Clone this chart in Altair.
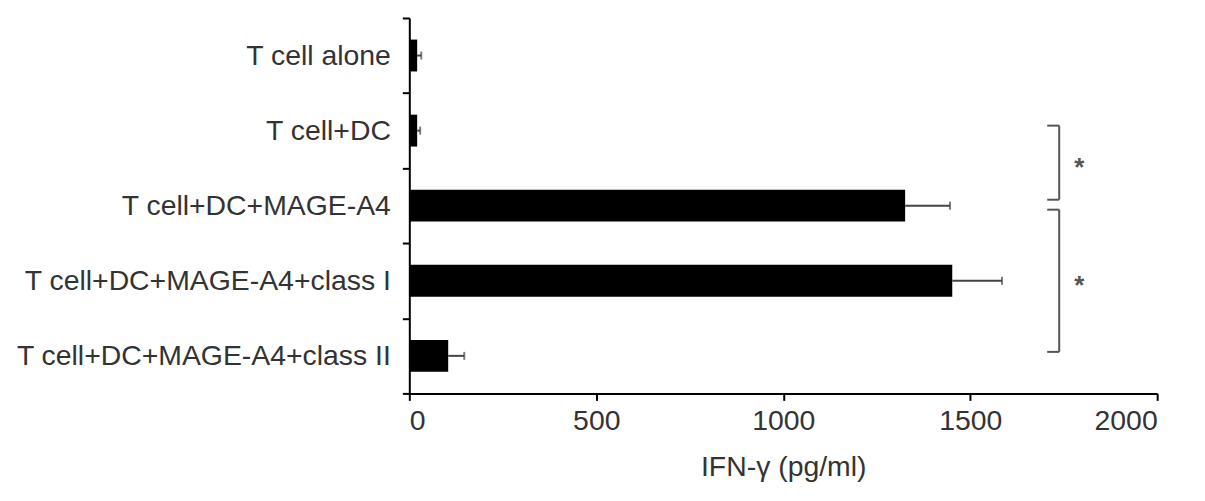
import altair as alt
import pandas as pd

categories = [
    "T cell alone",
    "T cell+DC",
    "T cell+DC+MAGE-A4",
    "T cell+DC+MAGE-A4+class I",
    "T cell+DC+MAGE-A4+class II",
]
means = [21, 21, 1326, 1452, 104]
sds = [11, 8, 120, 133, 43]
x_ticks = [0, 500, 1000, 1500, 2000]

# significance brackets: (from category, to category, x of arms' left end, x of vertical line, x of star)
brackets = [
    ("T cell+DC", "T cell+DC+MAGE-A4", 1706, 1738, 1792),
    ("T cell+DC+MAGE-A4", "T cell+DC+MAGE-A4+class II", 1706, 1738, 1792),
]
bracket_offsets = [(-5, -6, 32), (4, -4, 75)]  # pixel nudges: top, bottom, star

df = pd.DataFrame({"cat": categories, "mean": means, "sd": sds})
df["hi"] = df["mean"] + df["sd"]

FONT = "Liberation Sans"
FS = 28.5
ysc = alt.Scale(domain=categories, paddingInner=0, paddingOuter=0)
xsc = alt.Scale(domain=[0, 2000], nice=False)

base = alt.Chart(df)

bars = base.mark_bar(color="black", size=32).encode(
    y=alt.Y("cat:N", scale=ysc, sort=categories, title=None,
            axis=alt.Axis(tickBand="extent", tickSize=7, tickWidth=2, tickColor="black",
                          domainColor="black", domainWidth=2,
                          labelFont=FONT, labelFontSize=FS, labelColor="#333",
                          labelPadding=12, labelLimit=500)),
    x=alt.X("mean:Q", scale=xsc, title="IFN-γ (pg/ml)",
            axis=alt.Axis(values=x_ticks, format="d", tickSize=7, tickWidth=2, tickColor="black",
                          domainColor="black", domainWidth=2, grid=False,
                          labelFont=FONT, labelFontSize=FS, labelColor="#333",
                          labelPadding=6, titleFont=FONT, titleFontSize=FS,
                          titleFontWeight="normal", titleColor="#333", titlePadding=18)),
)

err = base.mark_rule(color="#444", strokeWidth=2).encode(
    y=alt.Y("cat:N", scale=ysc, sort=categories),
    x="mean:Q", x2="hi:Q",
)
caps = base.mark_tick(color="#444", thickness=2, size=8, orient="vertical").encode(
    y=alt.Y("cat:N", scale=ysc, sort=categories),
    x=alt.X("hi:Q", scale=xsc),
)

layers = [bars, err, caps]
for (a, b, xl, xv, xs), (ot, ob, os_) in zip(brackets, bracket_offsets):
    bd = pd.DataFrame({"a": [a], "b": [b], "xl": [xl], "xv": [xv], "xs": [xs]})
    bc = alt.Chart(bd)
    layers.append(bc.mark_rule(color="#555", strokeWidth=2, yOffset=ot, y2Offset=ob).encode(
        y=alt.Y("a:N", scale=ysc, sort=categories), y2="b:N", x=alt.X("xv:Q", scale=xsc)))
    layers.append(bc.mark_rule(color="#555", strokeWidth=2, yOffset=ot).encode(
        y=alt.Y("a:N", scale=ysc, sort=categories), x=alt.X("xl:Q", scale=xsc), x2="xv:Q"))
    layers.append(bc.mark_rule(color="#555", strokeWidth=2, yOffset=ob).encode(
        y=alt.Y("b:N", scale=ysc, sort=categories), x=alt.X("xl:Q", scale=xsc), x2="xv:Q"))
    layers.append(bc.mark_text(text="*", font=FONT, fontSize=26, fontWeight="bold", color="#555",
                               baseline="middle", yOffset=os_ + 6).encode(
        y=alt.Y("a:N", scale=ysc, sort=categories), x=alt.X("xs:Q", scale=xsc)))

chart = alt.layer(*layers).properties(
    width=751, height=377,
    autosize=alt.AutoSizeParams(type="none"),
    padding={"left": 403, "top": 9, "right": 40, "bottom": 100},
).configure(background="white").configure_view(stroke=None)

chart.save("out.html", embed_options={"renderer": "svg", "actions": False})
